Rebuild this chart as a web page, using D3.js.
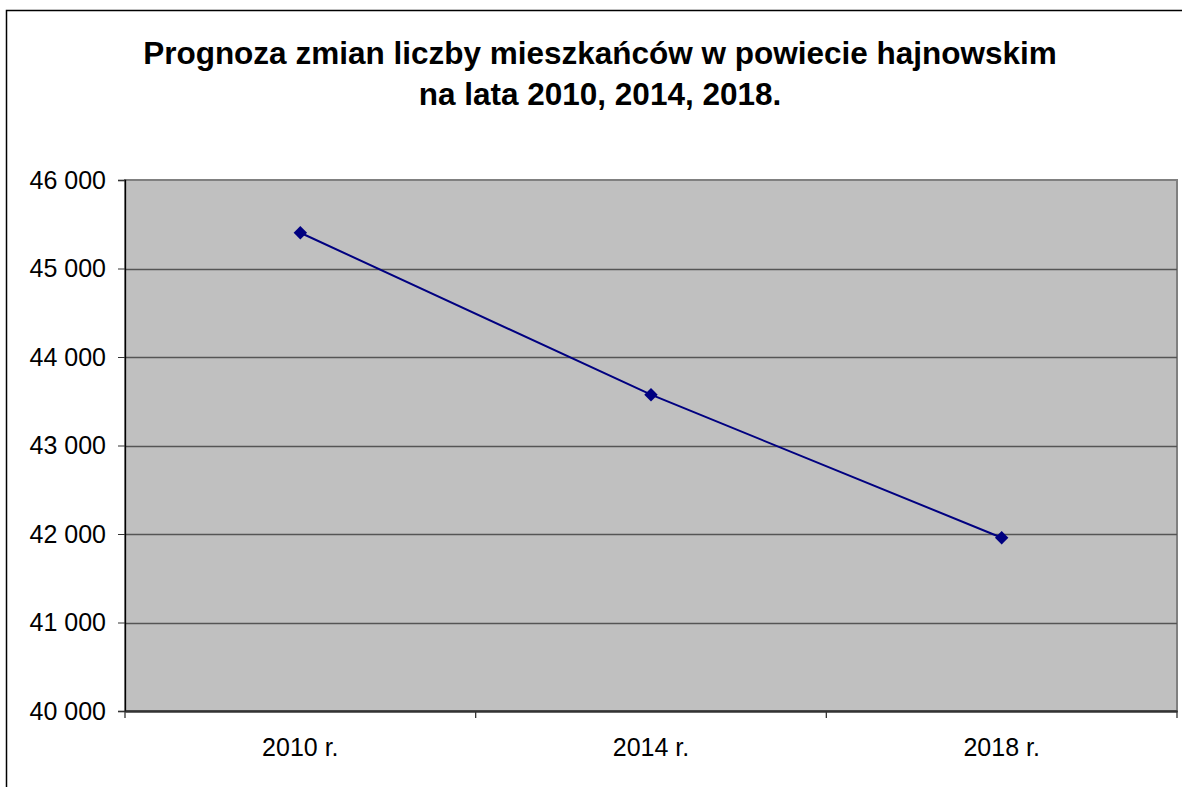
<!DOCTYPE html>
<html>
<head>
<meta charset="utf-8">
<title>Prognoza zmian liczby mieszkańców</title>
<script src="https://cdn.jsdelivr.net/npm/d3@7"></script>
<style>
    body { margin: 0; background: #fff; }
    text { font-family: "Liberation Sans", Arial, sans-serif; }
</style>
</head>
<body>
<svg id="chart" width="1182" height="787"></svg>
<script>
// data
var years = ["2010 r.", "2014 r.", "2018 r."];
var population = [45404, 43574, 41958];
var yTicks = [40000, 41000, 42000, 43000, 44000, 45000, 46000];
var titleLines = ["Prognoza zmian liczby mieszkańców w powiecie hajnowskim", "na lata 2010, 2014, 2018."];

var svg = d3.select("#chart");
// plot area edges (don't use "top", it clashes with window.top)
var pLeft = 125, pRight = 1177, pTop = 180, pBottom = 711;

// outer frame of the chart
svg.append("rect")
    .attr("x", 6.5).attr("y", 10.5)
    .attr("width", 1200).attr("height", 800)
    .attr("fill", "#fff").attr("stroke", "#000").attr("stroke-width", 1.5);

var x = d3.scaleBand().domain(years).range([pLeft, pRight]);
var y = d3.scaleLinear().domain([40000, 46000]).range([pBottom, pTop]);

// plot area
svg.append("rect")
    .attr("x", pLeft).attr("y", pTop)
    .attr("width", pRight - pLeft).attr("height", pBottom - pTop)
    .attr("fill", "#c0c0c0")
    .attr("stroke", "#808080").attr("stroke-width", 2);

// gridlines
svg.selectAll("line.grid")
    .data(yTicks.slice(1, -1))
    .enter().append("line")
    .attr("class", "grid")
    .attr("x1", pLeft).attr("x2", pRight)
    .attr("y1", function(d) { return Math.round(y(d)) + 0.5; })
    .attr("y2", function(d) { return Math.round(y(d)) + 0.5; })
    .attr("stroke", "#555").attr("stroke-width", 1.3);

var fmt = function(d) { return d3.format(",")(d).replace(",", " "); };

// y axis
var yAxis = svg.append("g")
    .attr("transform", "translate(" + pLeft + ",0)")
    .call(d3.axisLeft(y).tickValues(yTicks).tickSize(7).tickPadding(12).tickFormat(fmt));
yAxis.select(".domain").attr("stroke", "#000").attr("stroke-width", 1.3);
yAxis.selectAll(".tick line").attr("stroke", "#333");
yAxis.selectAll("text").attr("font-size", "25px").attr("fill", "#000")
    .attr("font-family", "Liberation Sans, Arial, sans-serif");

// x axis
var xAxis = svg.append("g")
    .attr("transform", "translate(0," + pBottom + ")")
    .call(d3.axisBottom(x).tickSize(0).tickPadding(27));
xAxis.select(".domain").attr("stroke", "#333").attr("stroke-width", 2.5);
xAxis.selectAll("text").attr("font-size", "25px").attr("fill", "#000")
    .attr("font-family", "Liberation Sans, Arial, sans-serif");

// category boundary ticks
var bounds = years.map(function(d) { return x(d); }).concat([x(years[years.length - 1]) + x.bandwidth()]);
svg.selectAll("line.xtick")
    .data(bounds)
    .enter().append("line")
    .attr("class", "xtick")
    .attr("x1", function(d) { return d; }).attr("x2", function(d) { return d; })
    .attr("y1", pBottom).attr("y2", pBottom + 7)
    .attr("stroke", "#333").attr("stroke-width", 1.3);

// line
var line = d3.line()
    .x(function(d, i) { return x(years[i]) + x.bandwidth() / 2; })
    .y(function(d) { return y(d); });
svg.append("path")
    .datum(population)
    .attr("d", line)
    .attr("fill", "none")
    .attr("stroke", "#000080").attr("stroke-width", 2);

// diamond markers
svg.selectAll("path.marker")
    .data(population)
    .enter().append("path")
    .attr("class", "marker")
    .attr("d", d3.symbol().type(d3.symbolDiamond2).size(115))
    .attr("transform", function(d, i) {
        return "translate(" + (x(years[i]) + x.bandwidth() / 2) + "," + y(d) + ")";
    })
    .attr("fill", "#000080");

// title
svg.selectAll("text.title")
    .data(titleLines)
    .enter().append("text")
    .attr("class", "title")
    .attr("x", 600)
    .attr("y", function(d, i) { return 64 + i * 41; })
    .attr("text-anchor", "middle")
    .attr("font-size", "31.5px")
    .attr("font-weight", "bold")
    .text(function(d) { return d; });
</script>
</body>
</html>
